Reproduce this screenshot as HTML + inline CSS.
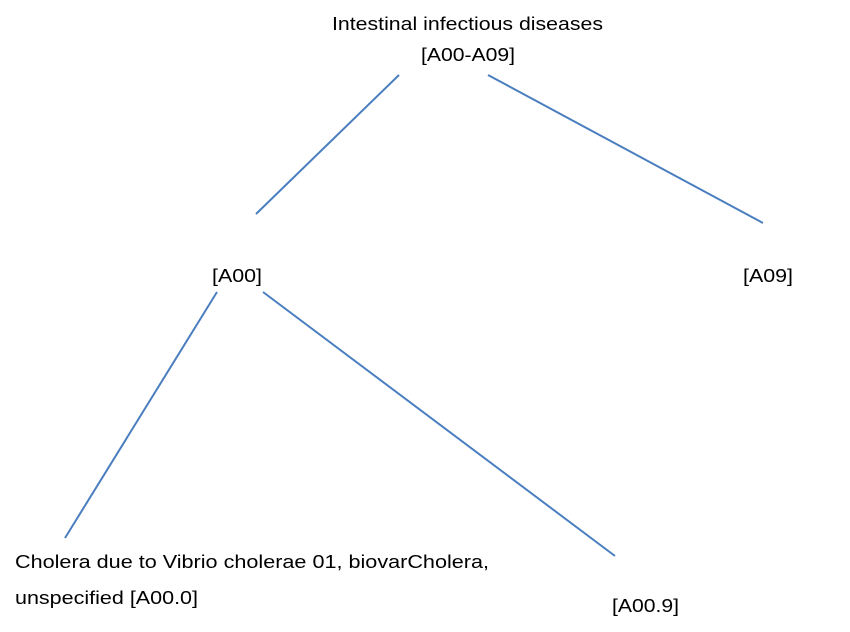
<!DOCTYPE html>
<html><head><meta charset="utf-8"><style>
html,body{margin:0;padding:0;background:#fff;}
svg{display:block;}
text{font-family:"Liberation Sans",sans-serif;font-size:18px;fill:#000;}
</style></head><body>
<svg width="850" height="632" viewBox="0 0 850 632">
<g stroke="#4a7ebf" stroke-width="2" fill="none">
<line x1="399" y1="75" x2="256" y2="214"/>
<line x1="488" y1="75" x2="763" y2="223"/>
<line x1="217" y1="292" x2="65" y2="538"/>
<line x1="263" y1="292" x2="615" y2="556"/>
</g>
<text x="332" y="30" textLength="271" lengthAdjust="spacingAndGlyphs">Intestinal infectious diseases</text>
<text x="421" y="61" textLength="94" lengthAdjust="spacingAndGlyphs">[A00-A09]</text>
<text x="212" y="282" textLength="50" lengthAdjust="spacingAndGlyphs">[A00]</text>
<text x="743" y="282" textLength="50" lengthAdjust="spacingAndGlyphs">[A09]</text>
<text x="15" y="568" textLength="474" lengthAdjust="spacingAndGlyphs">Cholera due to Vibrio cholerae 01, biovarCholera,</text>
<text x="15" y="604" textLength="183" lengthAdjust="spacingAndGlyphs">unspecified [A00.0]</text>
<text x="612" y="612" textLength="67" lengthAdjust="spacingAndGlyphs">[A00.9]</text>
</svg>
</body></html>
